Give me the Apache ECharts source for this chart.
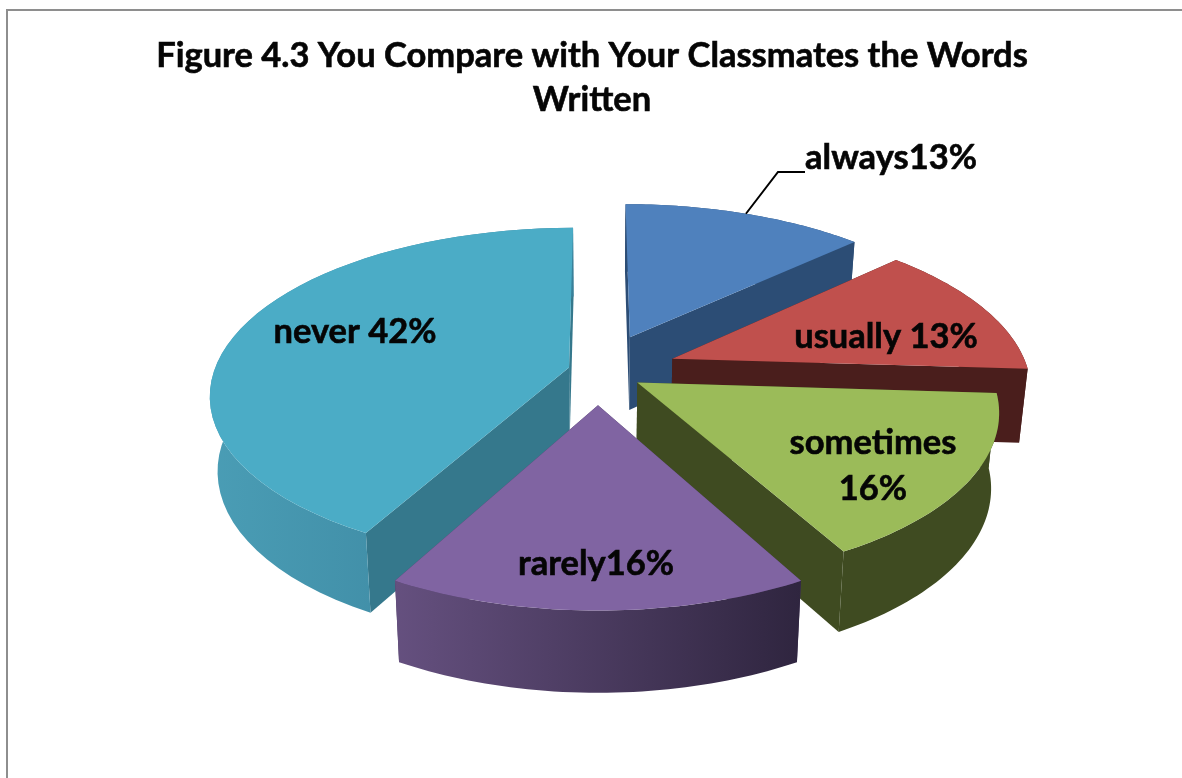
<!DOCTYPE html>
<html>
<head>
<meta charset="utf-8">
<style>html,body{margin:0;padding:0;background:#fff;overflow:hidden}#c{width:1182px;height:778px}</style>
<script src="https://cdn.jsdelivr.net/npm/echarts@6/dist/echarts.min.js"></script>
</head>
<body>
<div id="c"></div>
<script>
// ---- data ----
const categories = ['always', 'usually', 'sometimes', 'rarely', 'never'];
const shares = [13, 13, 16, 16, 42];
const labelTexts = ['always13%', 'usually 13%', 'sometimes\n16%', 'rarely16%', 'never 42%'];
const titleText = 'Figure 4.3 You Compare with Your Classmates the Words\nWritten';

// ---- style ----
const topColors = ['#4F81BD', '#C0504D', '#9BBB59', '#8064A2', '#4BACC6'];
const cutColors = ['#2C4D75', '#4A1E1C', '#3F4B21', '#4A3A60', '#35788C'];
const wallLeft = ['#2C4D75', '#4A1E1C', '#3F4B21', '#65507F', '#4A9DB5'];
const wallRight = ['#2C4D75', '#4A1E1C', '#3F4B21', '#2F253F', '#38809A'];

// ---- layout ----
const CX = 598, CY = 371, R0 = 352, SQUASH = 0.46, PERSP = 0.16, DEPTH = 74, SHRINK = 0.98;
const radii = [358, 356, 352, 349, 355];
const explode = [83, 80, 46, 72, 30];
const labelAt = [[891, 158], [886, 337], [873, 466], [596, 564], [355, 332]];
const paintOrder = [0, 1, 4, 2, 3];
const FONT = 'bold 34.5px Lato, "Open Sans", sans-serif';

function scaleAt(Y) { return 1 / (1 - PERSP * Y / R0); }
function project(X, Y) {
  const s = scaleAt(Y);
  return [CX + X * s, CY + SQUASH * Y * s];
}
function drop(X, Y) {
  const p = project(X, Y), s = scaleAt(Y);
  return [CX + (p[0] - CX) * SHRINK, p[1] + DEPTH * Math.sqrt(s)];
}

const total = shares.reduce((a, b) => a + b, 0);
const starts = [];
shares.reduce((acc, v, i) => { starts[i] = acc; return acc + v; }, 0);

function renderSlice(params, api) {
  const i = api.value(0);
  const R = radii[i];
  const a0 = starts[i] / total * 2 * Math.PI;
  const a1 = (starts[i] + shares[i]) / total * 2 * Math.PI;
  const mid = (a0 + a1) / 2;
  const ex = Math.sin(mid) * explode[i], ey = -Math.cos(mid) * explode[i];
  const rim = [];
  const steps = 48;
  for (let k = 0; k <= steps; k++) {
    const a = a0 + (a1 - a0) * k / steps;
    rim.push([ex + Math.sin(a) * R, ey - Math.cos(a) * R]);
  }
  const topPts = [project(ex, ey)].concat(rim.map(p => project(p[0], p[1])));
  const wallPts = rim.map(p => project(p[0], p[1]))
    .concat(rim.slice().reverse().map(p => drop(p[0], p[1])));
  const cut = (p) => [project(ex, ey), project(p[0], p[1]), drop(p[0], p[1]), drop(ex, ey)];
  const first = rim[0], last = rim[rim.length - 1];
  const children = [
    { type: 'polygon', shape: { points: cut(first) }, style: { fill: cutColors[i] } },
    { type: 'polygon', shape: { points: cut(last) }, style: { fill: cutColors[i] } },
    { type: 'polygon', shape: { points: wallPts }, style: {
      fill: new echarts.graphic.LinearGradient(0, 0, 1, 0, [
        { offset: 0, color: wallLeft[i] }, { offset: 1, color: wallRight[i] }
      ]) } },
    { type: 'polygon', shape: { points: topPts }, style: { fill: topColors[i] } }
  ];
  if (i === 0) {
    const t = project(ex + Math.sin(mid) * R, ey - Math.cos(mid) * R);
    children.push({ type: 'polyline',
      shape: { points: [t, [labelAt[0][0] - 113, labelAt[0][1] + 14], [labelAt[0][0] - 86, labelAt[0][1] + 14]] },
      style: { stroke: '#000', lineWidth: 2, fill: null } });
  }
  children.push({ type: 'text', z2: 100, style: {
    text: labelTexts[i], x: labelAt[i][0], y: labelAt[i][1], align: 'center', verticalAlign: 'middle',
    font: FONT, fill: '#050505', stroke: '#050505', lineWidth: 0.6, lineHeight: 46 } });
  return { type: 'group', children };
}

const chart = echarts.init(document.getElementById('c'), null, { renderer: 'canvas' });
chart.setOption({
  animation: false,
  backgroundColor: '#fff',
  title: {
    text: titleText, left: 587, top: 29, textAlign: 'center',
    textStyle: { fontFamily: 'Lato, "Open Sans", sans-serif', fontWeight: 'bold', fontSize: 34.5, lineHeight: 44, color: '#050505',
      textBorderColor: '#050505', textBorderWidth: 0.6 }
  },
  graphic: [{ type: 'rect', silent: true, z: -1, shape: { x: 7, y: 10, width: 1300, height: 900 },
    style: { fill: 'none', stroke: '#8E8E8E', lineWidth: 2 } }],
  series: [{
    type: 'custom', coordinateSystem: 'none', renderItem: renderSlice, clip: false,
    data: paintOrder.map(i => ({ name: categories[i], value: [i, shares[i]] }))
  }]
});
</script>
</body>
</html>
